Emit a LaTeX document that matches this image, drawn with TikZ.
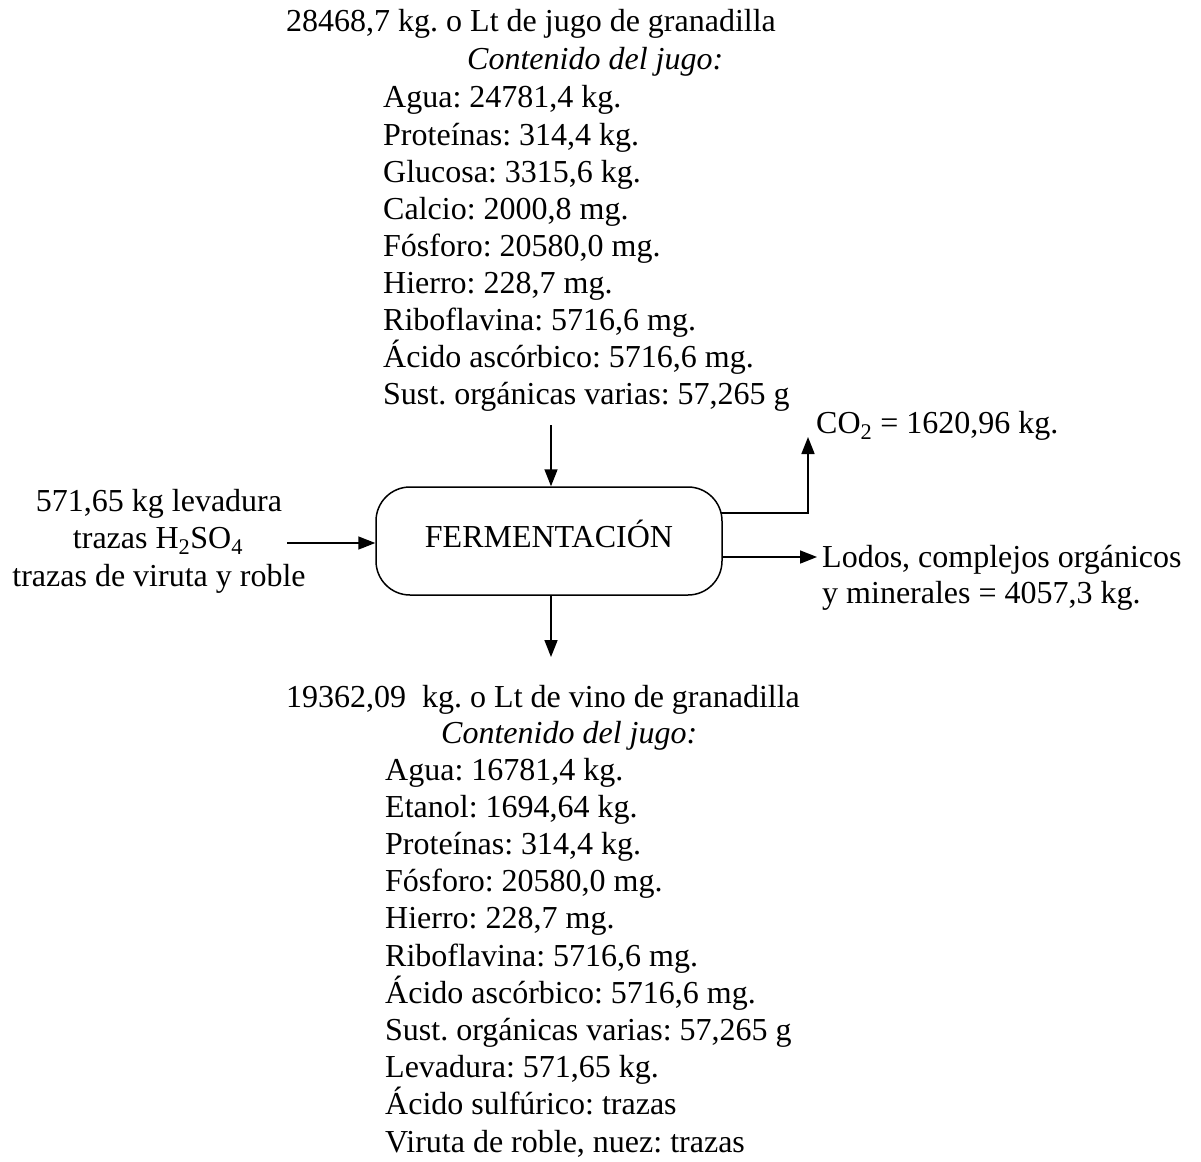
\documentclass[tikz,border=0pt]{standalone}
\usepackage{fontspec}
\setmainfont{Liberation Serif}
\usetikzlibrary{arrows.meta}
\begin{document}
\frenchspacing
\begin{tikzpicture}[x=1pt,y=-1pt,
  txt/.style={inner sep=0pt,anchor=base west,font=\fontsize{32}{37}\selectfont},
  ctxt/.style={txt,anchor=base},
  flow/.style={line width=1.7pt,-{Triangle[length=17pt,width=13pt]}},
  proc/.style={draw,line width=1.5pt,rounded corners=34pt,minimum width=346pt,minimum height=108pt,inner sep=0pt,text height=21pt,text depth=8pt,font=\fontsize{32}{37}\selectfont}]
\useasboundingbox (0,0) rectangle (1201,1161);
% top block
\node[txt] (ttitle) at (286,32) {28468,7 kg. o Lt de jugo de granadilla};
\node[txt] (tcont) at (467,70) {\itshape Contenido del jugo:};
\foreach \t [count=\i from 0] in {{Agua: 24781,4 kg.},{Proteínas: 314,4 kg.},{Glucosa: 3315,6 kg.},{Calcio: 2000,8 mg.},{Fósforo: 20580,0 mg.},{Hierro: 228,7 mg.},{Riboflavina: 5716,6 mg.},{Ácido ascórbico: 5716,6 mg.},{Sust. orgánicas varias: 57,265 g}}
  \node[txt] (tl\i) at (383,108+37.1*\i) {\t};
% box
\node[proc] (box) at (549,541) {FERMENTACIÓN};
% left
\node[ctxt] (l1) at (159,511) {571,65 kg levadura};
\node[ctxt] (l2) at (158,548) {trazas H\textsubscript{2}SO\textsubscript{4}};
\node[ctxt] (l3) at (159,586) {trazas de viruta y roble};
\coordinate (lstart) at (287,543);
% right
\node[txt] (co2) at (816,433) {CO\textsubscript{2} = 1620,96 kg.};
\node[txt] (lod1) at (822,567) {Lodos, complejos orgánicos};
\node[txt] (lod2) at (822,603) {y minerales = 4057,3 kg.};
% bottom block
\node[txt] (btitle) at (286,707) {19362,09\ \ kg. o Lt de vino de granadilla};
\node[txt] (bcont) at (441,743) {\itshape Contenido del jugo:};
\foreach \t [count=\i from 0] in {{Agua: 16781,4 kg.},{Etanol: 1694,64 kg.},{Proteínas: 314,4 kg.},{Fósforo: 20580,0 mg.},{Hierro: 228,7 mg.},{Riboflavina: 5716,6 mg.},{Ácido ascórbico: 5716,6 mg.},{Sust. orgánicas varias: 57,265 g},{Levadura: 571,65 kg.},{Ácido sulfúrico: trazas},{Viruta de roble, nuez: trazas}}
  \node[txt] (bl\i) at (385,780+37.2*\i) {\t};
% coordinates for connector ends
\coordinate (topin) at (551,425);
\coordinate (botout) at (551,657);
\coordinate (co2start) at (721,513);
\coordinate (co2end) at (808,437);
\coordinate (lodstart) at (722,557);
\coordinate (lodend) at (817,557);
% connectors
\draw[flow] (topin) -- (topin |- box.north);
\draw[flow] (botout |- box.south) -- (botout);
\draw[flow] (lstart) -- (lstart -| box.west);
\draw[flow] (co2start) -| (co2end);
\draw[flow] (lodstart) -- (lodend);
\end{tikzpicture}
\end{document}
